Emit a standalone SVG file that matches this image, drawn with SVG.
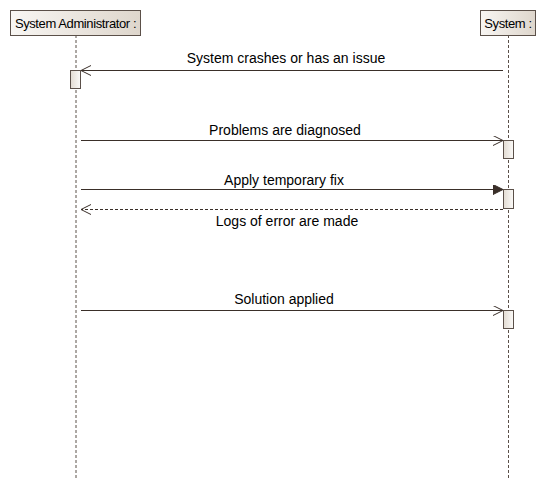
<svg xmlns="http://www.w3.org/2000/svg" width="546" height="490" viewBox="0 0 546 490">
<defs>
<linearGradient id="hg" x1="0" y1="0" x2="1" y2="0">
<stop offset="0" stop-color="#f8f6f3"/>
<stop offset="1" stop-color="#ded6cc"/>
</linearGradient>
<linearGradient id="ag" x1="0" y1="0" x2="1" y2="0">
<stop offset="0" stop-color="#e2dbd2"/>
<stop offset="1" stop-color="#fbfaf8"/>
</linearGradient>
<marker id="open" markerWidth="12" markerHeight="12" refX="10" refY="5" orient="auto" markerUnits="userSpaceOnUse">
<path d="M0,0 L10,5 L0,10" fill="none" stroke="#3a2f29" stroke-width="1"/>
</marker>
<marker id="filled" markerWidth="12" markerHeight="12" refX="10" refY="5" orient="auto" markerUnits="userSpaceOnUse">
<path d="M0,0 L10,5 L0,10 Z" fill="#3a2f29" stroke="#3a2f29" stroke-width="1"/>
</marker>
</defs>
<style>
.head{fill:url(#hg);stroke:#5b5049;stroke-width:1}
.act{fill:url(#ag);stroke:#5b5049;stroke-width:1}
.life{stroke:#5b5049;stroke-width:1;stroke-dasharray:3,2;fill:none}
.msg{stroke:#3a2f29;stroke-width:1;fill:none}
.ret{stroke:#3a2f29;stroke-width:1;fill:none;stroke-dasharray:3,2}
.ht{font-family:"Liberation Sans",Arial,sans-serif;font-size:13px;fill:#000;letter-spacing:-0.4px}
.lt{font-family:"Liberation Sans",Arial,sans-serif;font-size:14px;fill:#000;text-anchor:middle}
</style>
<rect width="546" height="490" fill="#fff"/>
<g id="admin">
<line class="life" x1="76" y1="35" x2="76" y2="480"/>
<rect class="head" x="10.5" y="10.5" width="130" height="25"/>
<text class="ht" x="75.5" y="27.5" text-anchor="middle">System Administrator :</text>
<rect class="act" x="70.5" y="70.5" width="10" height="18"/>
</g>
<g id="system">
<line class="life" x1="508.5" y1="35" x2="508.5" y2="480"/>
<rect class="head" x="480.5" y="10.5" width="55" height="25"/>
<text class="ht" x="508" y="27.5" text-anchor="middle">System :</text>
<rect class="act" x="503.5" y="140.5" width="10" height="18"/>
<rect class="act" x="503.5" y="189.5" width="10" height="19"/>
<rect class="act" x="503.5" y="310.5" width="10" height="18"/>
</g>
<g id="connectors">
<line class="msg" x1="503" y1="70.5" x2="81" y2="70.5" marker-end="url(#open)"/>
<line class="msg" x1="81" y1="140.5" x2="503" y2="140.5" marker-end="url(#open)"/>
<line class="msg" x1="81" y1="189.5" x2="503" y2="189.5" marker-end="url(#filled)"/>
<line class="ret" x1="503" y1="209.5" x2="81" y2="209.5" marker-end="url(#open)"/>
<line class="msg" x1="81" y1="310.5" x2="503" y2="310.5" marker-end="url(#open)"/>
<text class="lt" x="286" y="63">System crashes or has an issue</text>
<text class="lt" x="285" y="135">Problems are diagnosed</text>
<text class="lt" x="284" y="185">Apply temporary fix</text>
<text class="lt" x="287" y="226">Logs of error are made</text>
<text class="lt" x="284" y="304">Solution applied</text>
</g>
</svg>
